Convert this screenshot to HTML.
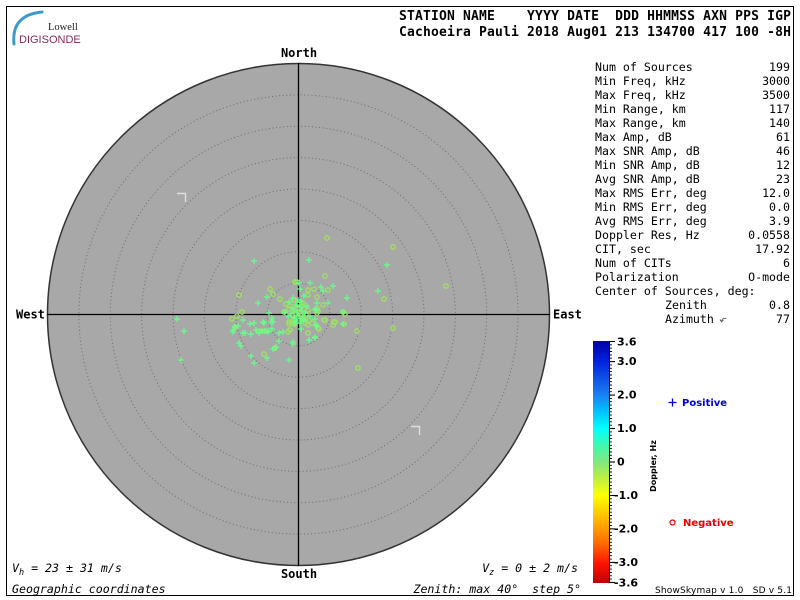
<!DOCTYPE html>
<html><head><meta charset="utf-8"><style>
html,body{margin:0;padding:0;background:#fff;}
svg{display:block;}
.mono{font-family:"DejaVu Sans Mono","Liberation Mono",monospace;}
.sans{font-family:"DejaVu Sans","Liberation Sans",sans-serif;}
</style></head><body>
<svg width="800" height="600" viewBox="0 0 800 600" xmlns="http://www.w3.org/2000/svg">
<defs>
<linearGradient id="cb" x1="0" y1="0" x2="0" y2="1">
<stop offset="0" stop-color="#0000a8"/>
<stop offset="0.083" stop-color="#0022dd"/>
<stop offset="0.222" stop-color="#1a80f0"/>
<stop offset="0.29" stop-color="#00c0ff"/>
<stop offset="0.361" stop-color="#00ffff"/>
<stop offset="0.43" stop-color="#40f8b0"/>
<stop offset="0.5" stop-color="#80e880"/>
<stop offset="0.57" stop-color="#c0f040"/>
<stop offset="0.639" stop-color="#ffff00"/>
<stop offset="0.708" stop-color="#ffcc00"/>
<stop offset="0.778" stop-color="#ff9900"/>
<stop offset="0.847" stop-color="#ff6000"/>
<stop offset="0.917" stop-color="#ff1500"/>
<stop offset="1" stop-color="#c00000"/>
</linearGradient>
<g id="p"><path d="M-3 0h6M0 -3v6" stroke="#66ff8c" stroke-width="1.2" fill="none"/></g>
<g id="c"><circle r="2.2" stroke="#9de35f" stroke-width="1.3" fill="none"/></g>
</defs>

<rect x="0" y="0" width="800" height="600" fill="#fff"/>
<rect x="6.5" y="6.5" width="787" height="589" fill="none" stroke="#000" stroke-width="1"/>

<!-- logo -->
<path d="M14 44 Q11 15 42 12" stroke="#3a9ccc" stroke-width="3" fill="none" stroke-linecap="round"/>
<text x="48" y="30" font-family="Liberation Serif, serif" font-size="10.5" fill="#222">Lowell</text>
<text x="19" y="43" font-family="Liberation Sans, sans-serif" font-size="11" fill="#8b2a5a">DIGISONDE</text>

<!-- header -->
<text class="mono" x="399" y="20" font-size="13" font-weight="bold" textLength="392" lengthAdjust="spacing" xml:space="preserve">STATION NAME    YYYY DATE  DDD HHMMSS AXN PPS IGP</text>
<text class="mono" x="399" y="36" font-size="13" font-weight="bold" textLength="392" lengthAdjust="spacing" xml:space="preserve">Cachoeira Pauli 2018 Aug01 213 134700 417 100 -8H</text>

<!-- polar plot -->
<circle cx="298.5" cy="314.5" r="251" fill="#a8a8a8" stroke="#333" stroke-width="1.5"/>
<g fill="none" stroke="#6e6e6e" stroke-width="1" stroke-dasharray="1 2.6">
<circle cx="298.5" cy="314.5" r="219.6"/>
<circle cx="298.5" cy="314.5" r="188.2"/>
<circle cx="298.5" cy="314.5" r="156.9"/>
<circle cx="298.5" cy="314.5" r="125.5"/>
<circle cx="298.5" cy="314.5" r="94.1"/>
<circle cx="298.5" cy="314.5" r="62.7"/>
<circle cx="298.5" cy="314.5" r="31.4"/>
</g>
<line x1="47" y1="314.5" x2="550" y2="314.5" stroke="#000" stroke-width="1.3"/>
<line x1="298.5" y1="63" x2="298.5" y2="566" stroke="#000" stroke-width="1.3"/>
<polyline points="177,193.5 185.5,193.5 185.5,202" fill="none" stroke="#dedede" stroke-width="1.4"/>
<polyline points="411,426.5 419.5,426.5 419.5,435" fill="none" stroke="#dedede" stroke-width="1.4"/>

<text class="mono" x="299" y="57" font-size="12" font-weight="bold" text-anchor="middle">North</text>
<text class="mono" x="299" y="578" font-size="12" font-weight="bold" text-anchor="middle">South</text>
<text class="mono" x="16" y="318.5" font-size="12" font-weight="bold">West</text>
<text class="mono" x="553" y="318.5" font-size="12" font-weight="bold">East</text>

<!-- points: circles -->
<g>
<use href="#c" x="327" y="238"/><use href="#c" x="393" y="247"/><use href="#c" x="446" y="286"/>
<use href="#c" x="384" y="299"/><use href="#c" x="393" y="328"/><use href="#c" x="358" y="368"/>
<use href="#c" x="357" y="331"/><use href="#c" x="344" y="324"/><use href="#c" x="343" y="312"/>
<use href="#c" x="335" y="322"/><use href="#c" x="333" y="325"/><use href="#c" x="325" y="320"/>
<use href="#c" x="319" y="329"/><use href="#c" x="325" y="276"/><use href="#c" x="328" y="290"/>
<use href="#c" x="314" y="289"/><use href="#c" x="308" y="290"/><use href="#c" x="308" y="295"/>
<use href="#c" x="317" y="297"/><use href="#c" x="323" y="305"/><use href="#c" x="318" y="311"/>
<use href="#c" x="295" y="282"/><use href="#c" x="297" y="282"/><use href="#c" x="270" y="289"/>
<use href="#c" x="273" y="294"/><use href="#c" x="280" y="299"/><use href="#c" x="239" y="295"/>
<use href="#c" x="242" y="312"/><use href="#c" x="232" y="319"/><use href="#c" x="237" y="316"/>
<use href="#c" x="235" y="327"/><use href="#c" x="259" y="331"/><use href="#c" x="265" y="331"/>
<use href="#c" x="264" y="354"/><use href="#c" x="286" y="304"/><use href="#c" x="284" y="312"/>
<use href="#c" x="289" y="309"/><use href="#c" x="289" y="324"/><use href="#c" x="295" y="324"/>
<use href="#c" x="303" y="319"/><use href="#c" x="309" y="320"/><use href="#c" x="308" y="325"/>
<use href="#c" x="317" y="309"/><use href="#c" x="317" y="313"/><use href="#c" x="324" y="320"/>
<use href="#c" x="334" y="322"/><use href="#c" x="345" y="314"/><use href="#c" x="289" y="322"/>
<use href="#c" x="292" y="323"/><use href="#c" x="305" y="323"/><use href="#c" x="312" y="323"/>
<use href="#c" x="318" y="328"/><use href="#c" x="290" y="330"/><use href="#c" x="288" y="332"/>
<use href="#c" x="308" y="333"/><use href="#c" x="275" y="348"/>
<use href="#c" x="294" y="300"/><use href="#c" x="298" y="304"/><use href="#c" x="302" y="306"/>
<use href="#c" x="296" y="309"/><use href="#c" x="300" y="312"/><use href="#c" x="304" y="309"/>
<use href="#c" x="292" y="315"/><use href="#c" x="297" y="317"/><use href="#c" x="301" y="316"/>
<use href="#c" x="306" y="315"/><use href="#c" x="294" y="320"/><use href="#c" x="299" y="321"/>
<use href="#c" x="303" y="303"/><use href="#c" x="290" y="306"/><use href="#c" x="308" y="310"/>
<use href="#c" x="296" y="313"/>
</g>
<!-- points: pluses -->
<g>
<use href="#p" x="254" y="261"/><use href="#p" x="309" y="260"/><use href="#p" x="387" y="265"/>
<use href="#p" x="378" y="291"/><use href="#p" x="347" y="298"/><use href="#p" x="177" y="319"/>
<use href="#p" x="184" y="331"/><use href="#p" x="181" y="360"/><use href="#p" x="310" y="283"/>
<use href="#p" x="321" y="287"/><use href="#p" x="333" y="286"/><use href="#p" x="323" y="291"/>
<use href="#p" x="328" y="303"/><use href="#p" x="317" y="303"/><use href="#p" x="315" y="309"/>
<use href="#p" x="315" y="319"/><use href="#p" x="317" y="326"/><use href="#p" x="315" y="337"/>
<use href="#p" x="309" y="340"/><use href="#p" x="293" y="342"/><use href="#p" x="293" y="344"/>
<use href="#p" x="289" y="360"/><use href="#p" x="267" y="358"/><use href="#p" x="254" y="363"/>
<use href="#p" x="251" y="356"/><use href="#p" x="273" y="349"/><use href="#p" x="276" y="347"/>
<use href="#p" x="279" y="341"/><use href="#p" x="239" y="343"/><use href="#p" x="241" y="346"/>
<use href="#p" x="283" y="332"/><use href="#p" x="279" y="333"/><use href="#p" x="272" y="329"/>
<use href="#p" x="268" y="331"/><use href="#p" x="264" y="323"/><use href="#p" x="259" y="333"/>
<use href="#p" x="256" y="330"/><use href="#p" x="251" y="334"/><use href="#p" x="245" y="333"/>
<use href="#p" x="243" y="333"/><use href="#p" x="233" y="330"/><use href="#p" x="233" y="332"/>
<use href="#p" x="235" y="327"/><use href="#p" x="238" y="326"/><use href="#p" x="243" y="320"/>
<use href="#p" x="250" y="324"/><use href="#p" x="254" y="323"/><use href="#p" x="272" y="318"/>
<use href="#p" x="273" y="322"/><use href="#p" x="258" y="303"/><use href="#p" x="267" y="297"/>
<use href="#p" x="269" y="313"/><use href="#p" x="289" y="302"/><use href="#p" x="293" y="298"/>
<use href="#p" x="300" y="289"/><use href="#p" x="299" y="283"/><use href="#p" x="316" y="310"/>
<use href="#p" x="343" y="312"/><use href="#p" x="263" y="322"/><use href="#p" x="271" y="322"/>
<use href="#p" x="300" y="323"/><use href="#p" x="295" y="323"/><use href="#p" x="305" y="320"/>
<use href="#p" x="343" y="324"/><use href="#p" x="268" y="332"/><use href="#p" x="265" y="331"/>
<use href="#p" x="262" y="331"/><use href="#p" x="301" y="329"/><use href="#p" x="315" y="338"/>
<use href="#p" x="316" y="325"/>
<use href="#p" x="296" y="305"/><use href="#p" x="300" y="307"/><use href="#p" x="302" y="311"/>
<use href="#p" x="297" y="312"/><use href="#p" x="293" y="309"/><use href="#p" x="305" y="313"/>
<use href="#p" x="299" y="316"/><use href="#p" x="294" y="318"/><use href="#p" x="303" y="319"/>
<use href="#p" x="291" y="314"/><use href="#p" x="307" y="306"/><use href="#p" x="298" y="300"/>
<use href="#p" x="288" y="316"/><use href="#p" x="310" y="316"/><use href="#p" x="296" y="321"/>
<use href="#p" x="301" y="302"/><use href="#p" x="285" y="312"/><use href="#p" x="304" y="296"/>
</g>

<!-- stats panel -->
<g class="mono" font-size="11.6" fill="#000">
<text x="595" y="71">Num of Sources</text><text x="790" y="71" text-anchor="end">199</text>
<text x="595" y="85">Min Freq, kHz</text><text x="790" y="85" text-anchor="end">3000</text>
<text x="595" y="99">Max Freq, kHz</text><text x="790" y="99" text-anchor="end">3500</text>
<text x="595" y="113">Min Range, km</text><text x="790" y="113" text-anchor="end">117</text>
<text x="595" y="127">Max Range, km</text><text x="790" y="127" text-anchor="end">140</text>
<text x="595" y="141">Max Amp, dB</text><text x="790" y="141" text-anchor="end">61</text>
<text x="595" y="155">Max SNR Amp, dB</text><text x="790" y="155" text-anchor="end">46</text>
<text x="595" y="169">Min SNR Amp, dB</text><text x="790" y="169" text-anchor="end">12</text>
<text x="595" y="183">Avg SNR Amp, dB</text><text x="790" y="183" text-anchor="end">23</text>
<text x="595" y="197">Max RMS Err, deg</text><text x="790" y="197" text-anchor="end">12.0</text>
<text x="595" y="211">Min RMS Err, deg</text><text x="790" y="211" text-anchor="end">0.0</text>
<text x="595" y="225">Avg RMS Err, deg</text><text x="790" y="225" text-anchor="end">3.9</text>
<text x="595" y="239">Doppler Res, Hz</text><text x="790" y="239" text-anchor="end">0.0558</text>
<text x="595" y="253">CIT, sec</text><text x="790" y="253" text-anchor="end">17.92</text>
<text x="595" y="267">Num of CITs</text><text x="790" y="267" text-anchor="end">6</text>
<text x="595" y="281">Polarization</text><text x="790" y="281" text-anchor="end">O-mode</text>
<text x="595" y="295">Center of Sources, deg:</text>
<text x="665" y="309">Zenith</text><text x="790" y="309" text-anchor="end">0.8</text>
<text x="665" y="323">Azimuth</text><text x="790" y="323" text-anchor="end">77</text>
</g>
<path d="M721.5 321 Q723 317.5 726.5 318.5" fill="none" stroke="#555" stroke-width="0.9"/>
<path d="M720 319.5 L721.5 321.8 L723.3 320" fill="none" stroke="#555" stroke-width="0.9"/>

<!-- colorbar -->
<rect x="593" y="341" width="16" height="242" fill="url(#cb)"/>
<path stroke="#000" stroke-width="0.9" fill="none" d="
M609 341.5h3M609 344.8h3M609 348.2h3M609 351.5h3M609 354.9h3M609 358.2h3M609 361.6h3M609 364.9h3M609 368.3h3M609 371.6h3
M609 375h3M609 378.3h3M609 381.7h3M609 385h3M609 388.4h3M609 391.7h3M609 395.1h3M609 398.4h3M609 401.7h3M609 405.1h3
M609 408.4h3M609 411.8h3M609 415.1h3M609 418.5h3M609 421.8h3M609 425.2h3M609 428.5h3M609 431.9h3M609 435.2h3M609 438.6h3
M609 441.9h3M609 445.3h3M609 448.6h3M609 452h3M609 455.3h3M609 458.6h3M609 462h3M609 465.3h3M609 468.7h3M609 472h3
M609 475.4h3M609 478.7h3M609 482.1h3M609 485.4h3M609 488.8h3M609 492.1h3M609 495.5h3M609 498.8h3M609 502.2h3M609 505.5h3
M609 508.9h3M609 512.2h3M609 515.5h3M609 518.9h3M609 522.2h3M609 525.6h3M609 528.9h3M609 532.3h3M609 535.6h3M609 539h3
M609 542.3h3M609 545.7h3M609 549h3M609 552.4h3M609 555.7h3M609 559.1h3M609 562.4h3M609 565.8h3M609 569.1h3M609 572.4h3
M609 575.8h3M609 579.1h3M609 582.5h3"/>
<line x1="609.5" y1="341" x2="609.5" y2="583" stroke="#000" stroke-width="1"/>
<g stroke="#000" stroke-width="1.1">
<line x1="609" y1="341.5" x2="615" y2="341.5"/>
<line x1="609" y1="361.6" x2="615" y2="361.6"/>
<line x1="609" y1="395.1" x2="615" y2="395.1"/>
<line x1="609" y1="428.5" x2="615" y2="428.5"/>
<line x1="609" y1="462" x2="615" y2="462"/>
<line x1="609" y1="495.5" x2="615" y2="495.5"/>
<line x1="609" y1="528.9" x2="615" y2="528.9"/>
<line x1="609" y1="562.4" x2="615" y2="562.4"/>
<line x1="609" y1="582.5" x2="615" y2="582.5"/>
</g>
<g class="sans" font-size="11" font-weight="bold" fill="#000">
<text x="617" y="345.5">3.6</text>
<text x="617" y="365">3.0</text>
<text x="617" y="398.5">2.0</text>
<text x="617" y="432">1.0</text>
<text x="617" y="465.5">0</text>
<text x="614" y="499">-1.0</text>
<text x="614" y="532.5">-2.0</text>
<text x="614" y="566">-3.0</text>
<text x="614" y="586.5">-3.6</text>
</g>
<text class="sans" transform="translate(656,466) rotate(-90)" font-size="8" font-weight="bold" text-anchor="middle">Doppler, Hz</text>

<!-- legend -->
<path d="M668.5 402.5h8M672.5 398.5v8" stroke="#0000e0" stroke-width="1.3" fill="none"/>
<text class="sans" x="682" y="406" font-size="10" font-weight="bold" fill="#0000e0">Positive</text>
<circle cx="672.5" cy="522.5" r="2.5" fill="none" stroke="#ee0000" stroke-width="1.2"/>
<text class="sans" x="683" y="526" font-size="10" font-weight="bold" fill="#ee0000">Negative</text>

<!-- bottom texts -->
<text class="mono" x="12" y="572" font-size="11.6" font-style="italic" xml:space="preserve">V<tspan font-size="8.5" dy="3">h</tspan><tspan dy="-3"> = 23 ± 31 m/s</tspan></text>
<text class="mono" x="12" y="593" font-size="11.6" font-style="italic">Geographic coordinates</text>
<text class="mono" x="578" y="572" font-size="11.6" font-style="italic" text-anchor="end" xml:space="preserve">V<tspan font-size="8.5" dy="3">z</tspan><tspan dy="-3"> = 0 ± 2 m/s</tspan></text>
<text class="mono" x="581" y="593" font-size="11.6" font-style="italic" text-anchor="end" xml:space="preserve">Zenith: max 40°  step 5°</text>
<text class="sans" x="655" y="593" font-size="9" textLength="137" lengthAdjust="spacing" xml:space="preserve">ShowSkymap v 1.0   SD v 5.1</text>
</svg>
</body></html>
